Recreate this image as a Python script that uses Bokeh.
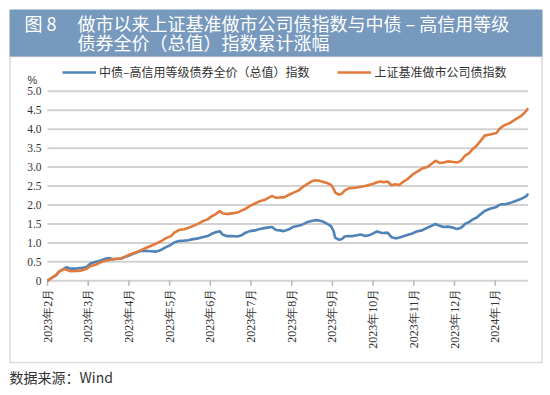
import math
import calendar
import datetime as dt
from bokeh.plotting import figure
from bokeh.models import (Range1d, Label, Legend, LegendItem, BoxAnnotation,
                          ColumnDataSource)
from bokeh.embed import file_html
from bokeh.resources import INLINE

# ---------------- data ----------------
dates = [
    "2023-02-01", "2023-02-04", "2023-02-07", "2023-02-09", "2023-02-12", "2023-02-14",
    "2023-02-17", "2023-02-20", "2023-02-22", "2023-02-25", "2023-02-28",
    "2023-03-03", "2023-03-07", "2023-03-10", "2023-03-14", "2023-03-17", "2023-03-20",
    "2023-03-23", "2023-03-26", "2023-03-30",
    "2023-04-02", "2023-04-06", "2023-04-10", "2023-04-13", "2023-04-17", "2023-04-21",
    "2023-04-25", "2023-04-28",
    "2023-05-02", "2023-05-05", "2023-05-08", "2023-05-12", "2023-05-15", "2023-05-19",
    "2023-05-23", "2023-05-26", "2023-05-30",
    "2023-06-02", "2023-06-05", "2023-06-08", "2023-06-10", "2023-06-13", "2023-06-17",
    "2023-06-21", "2023-06-24", "2023-06-27", "2023-06-30",
    "2023-07-04", "2023-07-07", "2023-07-11", "2023-07-15", "2023-07-17", "2023-07-20",
    "2023-07-23", "2023-07-26", "2023-07-30",
    "2023-08-02", "2023-08-06", "2023-08-09", "2023-08-13", "2023-08-16", "2023-08-19",
    "2023-08-22", "2023-08-25", "2023-08-28", "2023-08-31",
    "2023-09-02", "2023-09-03", "2023-09-06", "2023-09-08", "2023-09-10", "2023-09-13",
    "2023-09-16", "2023-09-19", "2023-09-22", "2023-09-25", "2023-09-28",
    "2023-10-01", "2023-10-04", "2023-10-07", "2023-10-09", "2023-10-12", "2023-10-15",
    "2023-10-18", "2023-10-21", "2023-10-23", "2023-10-27", "2023-10-31",
    "2023-11-03", "2023-11-07", "2023-11-11", "2023-11-14", "2023-11-17", "2023-11-20",
    "2023-11-23", "2023-11-26", "2023-11-29",
    "2023-12-03", "2023-12-06", "2023-12-09", "2023-12-12", "2023-12-15", "2023-12-18",
    "2023-12-21", "2023-12-24", "2023-12-28",
    "2024-01-02", "2024-01-04", "2024-01-06", "2024-01-09", "2024-01-12", "2024-01-16",
    "2024-01-20", "2024-01-23", "2024-01-25", "2024-01-26",
]

zhongzhai = [
    0.00, 0.08, 0.15, 0.24, 0.31, 0.36, 0.32, 0.32, 0.33, 0.34, 0.37,
    0.46, 0.50, 0.53, 0.58, 0.60, 0.57, 0.58, 0.59, 0.64,
    0.68, 0.74, 0.79, 0.79, 0.78, 0.77, 0.82, 0.88,
    0.95, 1.02, 1.05, 1.06, 1.07, 1.10, 1.12, 1.15, 1.18,
    1.24, 1.28, 1.31, 1.22, 1.18, 1.18, 1.17, 1.20, 1.27, 1.31,
    1.33, 1.36, 1.39, 1.41, 1.42, 1.34, 1.33, 1.31, 1.36,
    1.42, 1.45, 1.48, 1.55, 1.58, 1.60, 1.59, 1.56, 1.50, 1.44,
    1.30, 1.14, 1.08, 1.10, 1.17, 1.18, 1.18, 1.20, 1.22, 1.18, 1.20,
    1.25, 1.30, 1.27, 1.26, 1.27, 1.15, 1.12, 1.14, 1.16, 1.21, 1.25,
    1.30, 1.33, 1.40, 1.45, 1.50, 1.45, 1.42, 1.43, 1.41,
    1.37, 1.40, 1.50, 1.55, 1.62, 1.67, 1.76, 1.84, 1.90,
    1.95, 2.00, 2.02, 2.02, 2.05, 2.10, 2.15, 2.20, 2.24, 2.30,
]

shangzheng = [
    0.00, 0.08, 0.16, 0.24, 0.31, 0.29, 0.25, 0.26, 0.26, 0.28, 0.32,
    0.39, 0.43, 0.48, 0.53, 0.55, 0.57, 0.58, 0.59, 0.65,
    0.70, 0.75, 0.81, 0.86, 0.92, 0.98, 1.05, 1.12,
    1.18, 1.28, 1.34, 1.36, 1.39, 1.45, 1.51, 1.57, 1.62,
    1.70, 1.76, 1.84, 1.78, 1.76, 1.78, 1.80, 1.85, 1.90, 1.97,
    2.04, 2.09, 2.13, 2.20, 2.24, 2.19, 2.20, 2.20, 2.27,
    2.32, 2.38, 2.46, 2.56, 2.62, 2.65, 2.64, 2.61, 2.58, 2.53,
    2.42, 2.33, 2.27, 2.30, 2.38, 2.44, 2.45, 2.46, 2.48, 2.50, 2.53,
    2.56, 2.60, 2.62, 2.60, 2.62, 2.52, 2.55, 2.53, 2.59, 2.68, 2.80,
    2.87, 2.96, 3.00, 3.08, 3.17, 3.11, 3.12, 3.15, 3.14,
    3.12, 3.17, 3.30, 3.36, 3.48, 3.57, 3.70, 3.83, 3.86,
    3.90, 4.00, 4.06, 4.12, 4.16, 4.25, 4.33, 4.42, 4.50, 4.55,
]

month_labels = ["2023年2月", "2023年3月", "2023年4月", "2023年5月", "2023年6月",
                "2023年7月", "2023年8月", "2023年9月", "2023年10月", "2023年11月",
                "2023年12月", "2024年1月"]
y_ticks = [0, 0.5, 1.0, 1.5, 2.0, 2.5, 3.0, 3.5, 4.0, 4.5, 5.0]

series_names = ["中债–高信用等级债券全价（总值）指数", "上证基准做市公司债指数"]
title_no = "图 8"
title_line1 = "做市以来上证基准做市公司债指数与中债 – 高信用等级"
title_line2 = "债券全价（总值）指数累计涨幅"
unit_text = "%"
source_text = "数据来源：Wind"


# month-position scale: each month gets equal width (as in the original chart)
def month_pos(s):
    d = dt.date.fromisoformat(s)
    ndays = calendar.monthrange(d.year, d.month)[1]
    return (d.year - 2023) * 12 + (d.month - 2) + (d.day - 1) / ndays


xs = [month_pos(s) for s in dates]
x_ticks = list(range(len(month_labels)))
y_tick_labels = ["0" if t == 0 else f"{t:.1f}" for t in y_ticks]

# ---------------- layout / style ----------------
W, H = 549, 394
BLUE = "#4f83b8"
ORANGE = "#e27a3c"
BAND = "#7699bd"
GRID = "#d2d2d2"
TXT = "#333333"
CJK = "Noto Sans CJK SC"
LAT = "Liberation Sans"

# plot area placement on the page (pixels): x0 at 47, y=0 at 280.3
PX_X0, PX_PER_MONTH = 47.0, 40.7
PY_Y0, PX_PER_UNIT = 280.3, 37.9

# the frame covers the whole canvas so that nothing outside it gets clipped
p = figure(width=W, height=H, output_backend="svg", toolbar_location=None,
           x_axis_location=None, y_axis_location=None,
           x_range=Range1d(-PX_X0 / PX_PER_MONTH, (W - PX_X0) / PX_PER_MONTH),
           y_range=Range1d((PY_Y0 - H) / PX_PER_UNIT, PY_Y0 / PX_PER_UNIT),
           min_border=0)
p.outline_line_color = None
p.background_fill_color = "white"
p.border_fill_color = "white"
p.grid.visible = False


def sx(x):  # page pixel -> screen units of the frame (origin bottom-left)
    return x


def sy(y):
    return H - y


# title band and chart box
p.add_layout(BoxAnnotation(left=sx(9), right=sx(542), top=sy(9), bottom=sy(56),
                           left_units="screen", right_units="screen",
                           top_units="screen", bottom_units="screen",
                           fill_color=BAND, fill_alpha=1, line_color=None,
                           level="underlay"))
p.add_layout(BoxAnnotation(left=sx(9.5), right=sx(541.5), top=sy(56), bottom=sy(362),
                           left_units="screen", right_units="screen",
                           top_units="screen", bottom_units="screen",
                           fill_alpha=0, line_color="#858585", line_width=1.5,
                           level="underlay"))

# horizontal grid lines over the span of the data
grid_src = ColumnDataSource(dict(x0=[min(xs)] * len(y_ticks), x1=[max(xs)] * len(y_ticks),
                                 y=y_ticks))
p.segment(x0="x0", x1="x1", y0="y", y1="y", source=grid_src,
          line_color=GRID, line_width=2)

# month tick marks below the zero line
p.ray(x=x_ticks, y=[0] * len(x_ticks), length=5, length_units="screen",
      angle=-math.pi / 2, line_color="#b5b5b5", line_width=1.5)

# series
src = ColumnDataSource(dict(x=xs, blue=zhongzhai, orange=shangzheng))
r1 = p.line("x", "blue", source=src, line_color=BLUE, line_width=2.6)
r2 = p.line("x", "orange", source=src, line_color=ORANGE, line_width=2.6)

# tick labels
p.text(x=x_ticks, y=[0] * len(x_ticks), text=month_labels, angle=math.pi / 2,
       text_align="right", text_baseline="middle", y_offset=8,
       text_font=CJK, text_font_size="12px", text_color=TXT)
p.text(x=[0] * len(y_ticks), y=y_ticks, text=y_tick_labels,
       text_align="right", text_baseline="middle", x_offset=-6,
       text_font=LAT, text_font_size="11.5px", text_color=TXT)

# legend
legend = Legend(items=[LegendItem(label=series_names[0], renderers=[r1]),
                       LegendItem(label=series_names[1], renderers=[r2])],
                orientation="horizontal", location=(sx(62), sy(80)),
                border_line_color=None, background_fill_alpha=0,
                padding=0, margin=0, spacing=28, glyph_width=34, glyph_height=14,
                label_height=14, label_standoff=3,
                label_text_font=CJK, label_text_font_size="12px",
                label_text_color=TXT)
p.add_layout(legend)


def label(x, y, text, size, color=TXT, font=CJK):
    p.add_layout(Label(x=sx(x), y=sy(y), x_units="screen", y_units="screen",
                       text=text, text_font=font, text_font_size=size,
                       text_color=color, text_baseline="middle"))


label(24, 22.5, title_no, "18px", "white")
label(77, 22.5, title_line1, "18px", "white")
label(77, 41, title_line2, "18px", "white")
label(27, 79, unit_text, "11px", font=LAT)
label(9, 376, source_text, "14px")

open("out.html", "w").write(file_html(p, INLINE))
